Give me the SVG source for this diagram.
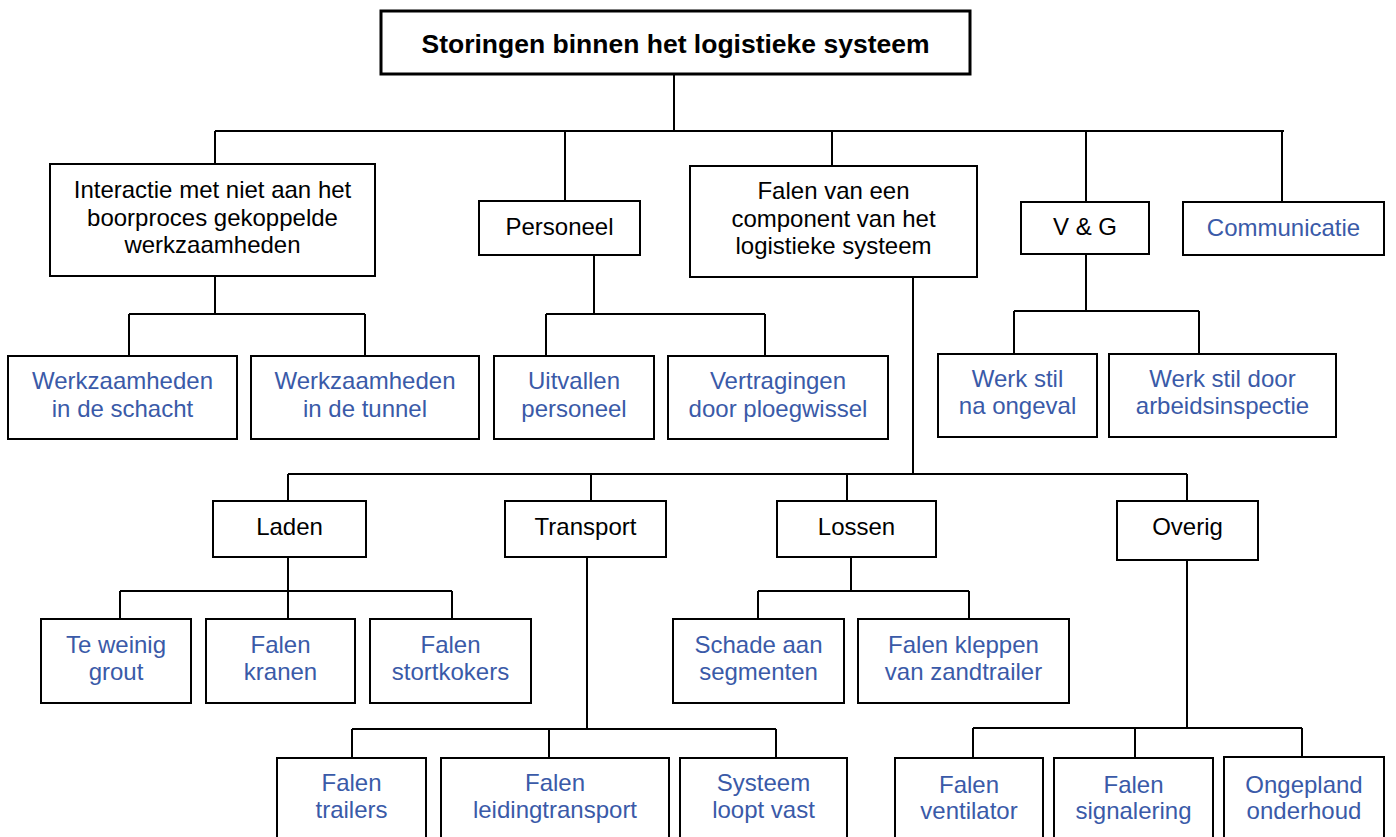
<svg xmlns="http://www.w3.org/2000/svg" width="1396" height="837" viewBox="0 0 1396 837">
<style>
.box{fill:#fff;stroke:#000;stroke-width:2}
.root{fill:#fff;stroke:#000;stroke-width:3}
.t{font-family:"Liberation Sans",Arial,sans-serif;font-size:24px;text-anchor:middle;fill:#000}
.b{fill:#3a5aa8}
.h{font-weight:bold;font-size:26.5px}
.c{fill:none;stroke:#000;stroke-width:2}
</style>
<rect width="1396" height="837" fill="#fff"/>
<g id="connectors" class="c">
<path d="M674 74V131M215 131H1284M215 131V164M565 131V201M832 131V166M1086 131V202M1282 131V202"/>
<path d="M215 276V314M129 314H365M129 314V356M365 314V356"/>
<path d="M594 255V314M546 314H765M546 314V356M765 314V356"/>
<path d="M913 277V474M288 474H1187M288 474V501M591 474V501M847 474V501M1187 474V501"/>
<path d="M1086 254V311M1014 311H1199M1014 311V354M1199 311V354"/>
<path d="M288 557V591M120 591H452M120 591V619M288 591V619M452 591V619"/>
<path d="M587 557V729M352 729H776M352 729V758M549 729V758M776 729V758"/>
<path d="M851 557V591M758 591H969M758 591V619M969 591V619"/>
<path d="M1187 560V728M973 728H1302M973 728V758M1135 728V758M1302 728V757"/>
</g>
<g id="root"><rect class="root" x="381" y="11" width="589" height="63"/><text class="t h" x="675.5" y="53">Storingen binnen het logistieke systeem</text></g>
<g id="interactie"><rect class="box" x="50" y="164" width="325" height="112"/><text class="t" x="212.5" y="198">Interactie met niet aan het</text><text class="t" x="212.5" y="226">boorproces gekoppelde</text><text class="t" x="212.5" y="253">werkzaamheden</text></g>
<g id="personeel"><rect class="box" x="479" y="201" width="161" height="54"/><text class="t" x="559.5" y="235">Personeel</text></g>
<g id="falen-component"><rect class="box" x="690" y="166" width="287" height="111"/><text class="t" x="833.5" y="199">Falen van een</text><text class="t" x="833.5" y="227">component van het</text><text class="t" x="833.5" y="254">logistieke systeem</text></g>
<g id="vg"><rect class="box" x="1021" y="202" width="128" height="52"/><text class="t" x="1085" y="235">V &amp; G</text></g>
<g id="communicatie"><rect class="box" x="1183" y="202" width="201" height="53"/><text class="t b" x="1283.5" y="236">Communicatie</text></g>
<g id="schacht"><rect class="box" x="8" y="356" width="229" height="83"/><text class="t b" x="122.5" y="389">Werkzaamheden</text><text class="t b" x="122.5" y="417">in de schacht</text></g>
<g id="tunnel"><rect class="box" x="251" y="356" width="228" height="83"/><text class="t b" x="365" y="389">Werkzaamheden</text><text class="t b" x="365" y="417">in de tunnel</text></g>
<g id="uitvallen"><rect class="box" x="494" y="356" width="160" height="83"/><text class="t b" x="574" y="389">Uitvallen</text><text class="t b" x="574" y="417">personeel</text></g>
<g id="vertragingen"><rect class="box" x="668" y="356" width="220" height="83"/><text class="t b" x="778" y="389">Vertragingen</text><text class="t b" x="778" y="417">door ploegwissel</text></g>
<g id="ongeval"><rect class="box" x="938" y="354" width="159" height="83"/><text class="t b" x="1017.5" y="387">Werk stil</text><text class="t b" x="1017.5" y="414">na ongeval</text></g>
<g id="arbeidsinspectie"><rect class="box" x="1109" y="354" width="227" height="83"/><text class="t b" x="1222.5" y="387">Werk stil door</text><text class="t b" x="1222.5" y="414">arbeidsinspectie</text></g>
<g id="laden"><rect class="box" x="213" y="501" width="153" height="56"/><text class="t" x="289.5" y="535">Laden</text></g>
<g id="transport"><rect class="box" x="505" y="501" width="161" height="56"/><text class="t" x="585.5" y="535">Transport</text></g>
<g id="lossen"><rect class="box" x="777" y="501" width="159" height="56"/><text class="t" x="856.5" y="535">Lossen</text></g>
<g id="overig"><rect class="box" x="1117" y="501" width="141" height="59"/><text class="t" x="1187.5" y="535">Overig</text></g>
<g id="grout"><rect class="box" x="41" y="619" width="150" height="84"/><text class="t b" x="116" y="653">Te weinig</text><text class="t b" x="116" y="680">grout</text></g>
<g id="kranen"><rect class="box" x="206" y="619" width="149" height="84"/><text class="t b" x="280.5" y="653">Falen</text><text class="t b" x="280.5" y="680">kranen</text></g>
<g id="stortkokers"><rect class="box" x="370" y="619" width="161" height="84"/><text class="t b" x="450.5" y="653">Falen</text><text class="t b" x="450.5" y="680">stortkokers</text></g>
<g id="schade"><rect class="box" x="673" y="619" width="171" height="84"/><text class="t b" x="758.5" y="653">Schade aan</text><text class="t b" x="758.5" y="680">segmenten</text></g>
<g id="kleppen"><rect class="box" x="858" y="619" width="211" height="84"/><text class="t b" x="963.5" y="653">Falen kleppen</text><text class="t b" x="963.5" y="680">van zandtrailer</text></g>
<g id="trailers"><rect class="box" x="277" y="758" width="149" height="90"/><text class="t b" x="351.5" y="791">Falen</text><text class="t b" x="351.5" y="818">trailers</text></g>
<g id="leidingtransport"><rect class="box" x="441" y="758" width="228" height="90"/><text class="t b" x="555" y="791">Falen</text><text class="t b" x="555" y="818">leidingtransport</text></g>
<g id="loopt-vast"><rect class="box" x="680" y="758" width="167" height="90"/><text class="t b" x="763.5" y="791">Systeem</text><text class="t b" x="763.5" y="818">loopt vast</text></g>
<g id="ventilator"><rect class="box" x="895" y="758" width="148" height="90"/><text class="t b" x="969" y="793">Falen</text><text class="t b" x="969" y="819">ventilator</text></g>
<g id="signalering"><rect class="box" x="1054" y="758" width="159" height="90"/><text class="t b" x="1133.5" y="793">Falen</text><text class="t b" x="1133.5" y="819">signalering</text></g>
<g id="onderhoud"><rect class="box" x="1224" y="757" width="160" height="90"/><text class="t b" x="1304" y="793">Ongepland</text><text class="t b" x="1304" y="819">onderhoud</text></g>
</svg>
